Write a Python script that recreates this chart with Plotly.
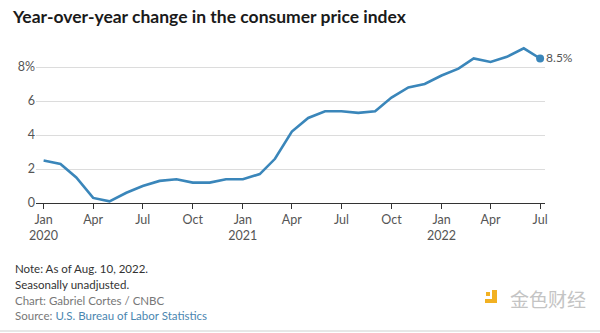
import plotly.graph_objects as go

# Monthly CPI, year-over-year % change (not seasonally adjusted)
months = [
    "2020-01-01", "2020-02-01", "2020-03-01", "2020-04-01", "2020-05-01", "2020-06-01",
    "2020-07-01", "2020-08-01", "2020-09-01", "2020-10-01", "2020-11-01", "2020-12-01",
    "2021-01-01", "2021-02-01", "2021-03-01", "2021-04-01", "2021-05-01", "2021-06-01",
    "2021-07-01", "2021-08-01", "2021-09-01", "2021-10-01", "2021-11-01", "2021-12-01",
    "2022-01-01", "2022-02-01", "2022-03-01", "2022-04-01", "2022-05-01", "2022-06-01",
    "2022-07-01",
]
cpi_yoy = [
    2.5, 2.3, 1.5, 0.3, 0.1, 0.6, 1.0, 1.3, 1.4, 1.2, 1.2, 1.4,
    1.4, 1.7, 2.6, 4.2, 5.0, 5.4, 5.4, 5.3, 5.4, 6.2, 6.8, 7.0,
    7.5, 7.9, 8.5, 8.3, 8.6, 9.1, 8.5,
]

x_tick_vals = ["2020-01-01", "2020-04-01", "2020-07-01", "2020-10-01",
               "2021-01-01", "2021-04-01", "2021-07-01", "2021-10-01",
               "2022-01-01", "2022-04-01", "2022-07-01"]
x_tick_text = ["Jan<br>2020", "Apr", "Jul", "Oct",
               "Jan<br>2021", "Apr", "Jul", "Oct",
               "Jan<br>2022", "Apr", "Jul"]
y_tick_vals = [0, 2, 4, 6, 8]
y_tick_text = ["0", "2", "4", "6", "8%"]

LINE = "#3a86ba"
W, H = 600, 333
L, R, T, B = 36, 545, 45, 203  # plot area in pixels


def px(x):
    return (x - L) / (R - L)


def py(y):
    return (B - y) / (B - T)


fig = go.Figure()
fig.add_trace(go.Scatter(
    x=months, y=cpi_yoy, mode="lines",
    line=dict(color=LINE, width=2.6),
    hoverinfo="skip", cliponaxis=False,
))
fig.add_trace(go.Scatter(
    x=[months[-1]], y=[cpi_yoy[-1]], mode="markers+text",
    marker=dict(color=LINE, size=8),
    text=[f"{cpi_yoy[-1]}%"], textposition="middle right",
    textfont=dict(family="Lato", size=12, color="#555"),
    hoverinfo="skip", cliponaxis=False,
))

fig.update_layout(
    width=W, height=H,
    margin=dict(l=L, r=W - R, t=T, b=H - B),
    paper_bgcolor="white", plot_bgcolor="white",
    showlegend=False,
    font=dict(family="Lato", color="#444"),
    title=dict(
        text="<b>Year-over-year change in the consumer price index</b>",
        x=13 / W, xanchor="left", xref="container",
        y=1 - 17 / H, yanchor="middle", yref="container",
        font=dict(family="Lato", size=17.5, color="#1a1a1a"),
    ),
    xaxis=dict(
        type="date",
        range=["2019-12-18", "2022-07-10"],
        tickvals=x_tick_vals, ticktext=x_tick_text,
        ticks="outside", ticklen=5, tickwidth=1.3, tickcolor="#333",
        showline=True, linecolor="#333", linewidth=1.3,
        showgrid=False, zeroline=False,
        tickfont=dict(family="Lato", size=12.5, color="#555"),
    ),
    yaxis=dict(
        range=[0, (B - T) / 17],
        tickvals=y_tick_vals, ticktext=y_tick_text,
        showgrid=True, gridcolor="#dcdcdc", gridwidth=1.3,
        zeroline=False, ticks="",
        tickfont=dict(family="Lato", size=12.5, color="#555"),
    ),
)

notes = [
    ("Note: As of Aug. 10, 2022.", 268, "#333"),
    ("Seasonally unadjusted.", 284, "#333"),
    ("Chart: Gabriel Cortes / CNBC", 300, "#777"),
    ("Source: <span style='color:#4a86b0'>U.S. Bureau of Labor Statistics</span>", 315, "#777"),
]
for text, y, color in notes:
    fig.add_annotation(
        text=text, xref="paper", yref="paper",
        x=px(13), y=py(y), xanchor="left", yanchor="middle",
        showarrow=False, font=dict(family="Lato", size=11.5, color=color),
    )

# watermark in the lower right corner
fig.add_shape(type="rect", xref="paper", yref="paper",
              x0=px(486), x1=px(490), y0=py(296), y1=py(292),
              fillcolor="#f2b122", line_width=0)
fig.add_shape(type="path", xref="paper", yref="paper",
              path=f"M {px(492)},{py(290)} L {px(497)},{py(290)} L {px(497)},{py(303)} "
                   f"L {px(485)},{py(303)} L {px(485)},{py(299)} L {px(492)},{py(299)} Z",
              fillcolor="#f2b122", line_width=0)
fig.add_annotation(
    text="金色财经", xref="paper", yref="paper",
    x=px(508), y=py(298), xanchor="left", yanchor="middle",
    showarrow=False, font=dict(family="Noto Sans CJK SC", size=19, color="#c4c4c4"),
)

# thin rule along the bottom edge
fig.add_shape(type="line", xref="paper", yref="paper",
              x0=px(0), x1=px(W), y0=py(331), y1=py(331),
              line=dict(color="#cfcfcf", width=1))

fig.write_html("out.html")
